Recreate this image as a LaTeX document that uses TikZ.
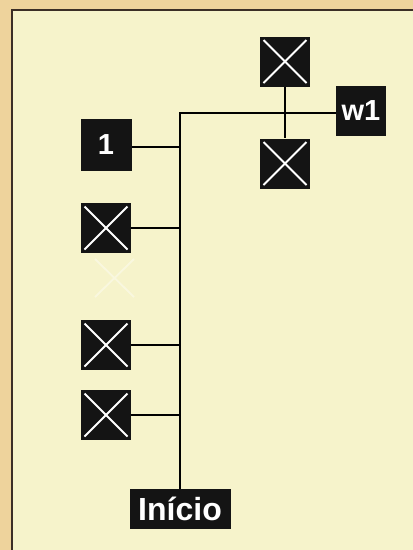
\documentclass[tikz,border=0pt]{standalone}
\usepackage{fontspec}
\setsansfont{Liberation Sans}
\usepackage{tikz}
\usetikzlibrary{positioning}

\definecolor{paneltan}{HTML}{EED39C}
\definecolor{panelfill}{HTML}{F6F3CB}
\definecolor{panelline}{HTML}{3B2E26}

\tikzset{
    blk/.style={fill=black!92, inner sep=0pt, text=white,
        font=\sffamily\bfseries\fontsize{29}{29}\selectfont},
    xbox/.style={blk, minimum width=50pt, minimum height=50pt,
        path picture={
            \draw[white, line width=2pt]
                ([shift={(3.5pt,3.5pt)}]path picture bounding box.south west) --
                ([shift={(-3.5pt,-3.5pt)}]path picture bounding box.north east);
            \draw[white, line width=2pt]
                ([shift={(3.5pt,-3.5pt)}]path picture bounding box.north west) --
                ([shift={(-3.5pt,3.5pt)}]path picture bounding box.south east);
        }},
    wire/.style={draw=black, line width=2pt}
}

\begin{document}
\begin{tikzpicture}[x=1pt, y=-1pt]
% Background and panel
\useasboundingbox (0,0) rectangle (413,550);
\fill[paneltan] (0,0) rectangle (413,550);
\fill[panelfill] (12,10) rectangle (413,550);
\draw[panelline, line width=2pt] (12,551) -- (12,10) -- (414,10);

% Right cluster
\node[xbox] (xtop) at (285,61.5) {};
\node[xbox] (xbot) at (285,163.5) {};
\node[blk, minimum width=50pt, minimum height=50pt] (w1) at (361,111) {w1};

% Left column
\node[blk, minimum width=51pt, minimum height=52pt] (one) at (106,145) {1};
\node[xbox] (xa) at (106,228) {};
\node[xbox] (xb) at (106,345) {};
\node[xbox] (xc) at (106,415) {};
\node[blk, minimum width=101pt, minimum height=40pt,
      font=\sffamily\bfseries\fontsize{32}{32}\selectfont] (inicio) at (180,509) {Início};

% Faint ghost mark
\draw[white, opacity=0.4, line width=1.8pt] (95,259) -- (134,297) (134,259) -- (95,297);

% Trunk
\coordinate (top) at (180,113);
\draw[wire] (inicio.north -| top) -- (top) -- (top -| w1.west);
\draw[wire] (xtop.south) -- (xbot.north);

% Branches
\draw[wire] ([yshift=-2pt]one.east) -- ([yshift=-2pt]one.east -| top);
\draw[wire] (xa.east) -- (xa.east -| top);
\draw[wire] (xb.east) -- (xb.east -| top);
\draw[wire] (xc.east) -- (xc.east -| top);
\end{tikzpicture}
\end{document}
